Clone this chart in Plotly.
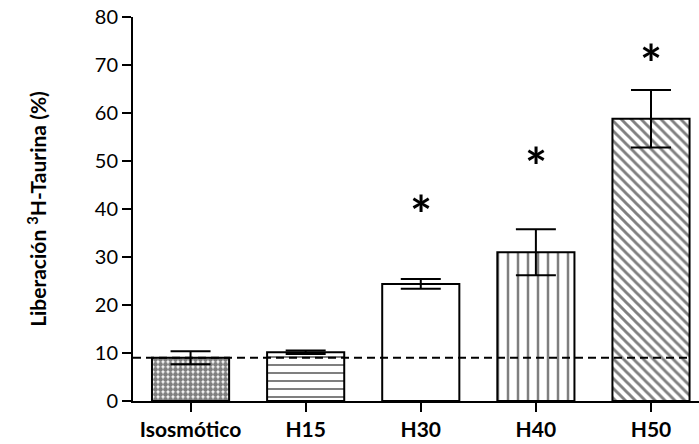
import plotly.graph_objects as go

categories = ["Isosmótico", "H15", "H30", "H40", "H50"]
values = [9.0, 10.15, 24.4, 31.0, 58.8]
errors = [1.35, 0.35, 1.0, 4.8, 6.0]
star_y = [None, None, 41.3, 51.3, 72.7]
baseline = 9.0
y_ticks = [0, 10, 20, 30, 40, 50, 60, 70, 80]

FONT = "Lato"

fig = go.Figure()
fig.add_trace(go.Bar(
    x=categories, y=values, width=0.67,
    marker=dict(
        color="white",
        line=dict(color="black", width=2),
        pattern=dict(
            shape=[".", "-", "", "|", "\\"],
            size=[5, 8, 8, 10, 7],
            solidity=[0.72, 0.25, 0.2, 0.25, 0.42],
            fgcolor="black", bgcolor="white", fillmode="overlay",
        ),
    ),
    error_y=dict(type="data", array=errors, visible=True,
                 color="black", thickness=2, width=20),
    showlegend=False,
))

fig.add_shape(type="line", xref="x", yref="y", x0=-0.5, x1=4.34,
              y0=baseline, y1=baseline, layer="above",
              line=dict(color="black", width=2, dash="8px,5px"))

for c, s in zip(categories, star_y):
    if s is not None:
        fig.add_annotation(x=c, y=s, text="<b>*</b>", showarrow=False,
                           yanchor="middle", yshift=-11,
                           font=dict(family=FONT, size=52, color="black"))

fig.update_layout(
    width=699, height=444,
    margin=dict(l=133, r=0, t=17, b=42.5),
    plot_bgcolor="white", paper_bgcolor="white",
    font=dict(family=FONT, color="black"),
    bargap=0.33,
)
fig.update_xaxes(
    range=[-0.5, 4.417], showline=True, linecolor="black", linewidth=2,
    ticks="outside", ticklen=9, tickwidth=2, tickcolor="black",
    tickfont=dict(family=FONT, size=21, color="black", weight="bold"),
    showgrid=False, zeroline=False,
)
fig.update_yaxes(
    range=[0, 80], tickvals=y_ticks, showline=True, linecolor="black", linewidth=2,
    ticks="outside", ticklen=9, tickwidth=2, tickcolor="black",
    tickfont=dict(family=FONT, size=20, color="black"),
    showgrid=False, zeroline=False,
    title=dict(text="<b>Liberación <sup>3</sup>H-Taurina (%)</b>",
               font=dict(family=FONT, size=21, color="black"), standoff=42),
)

fig.write_html("out.html")
